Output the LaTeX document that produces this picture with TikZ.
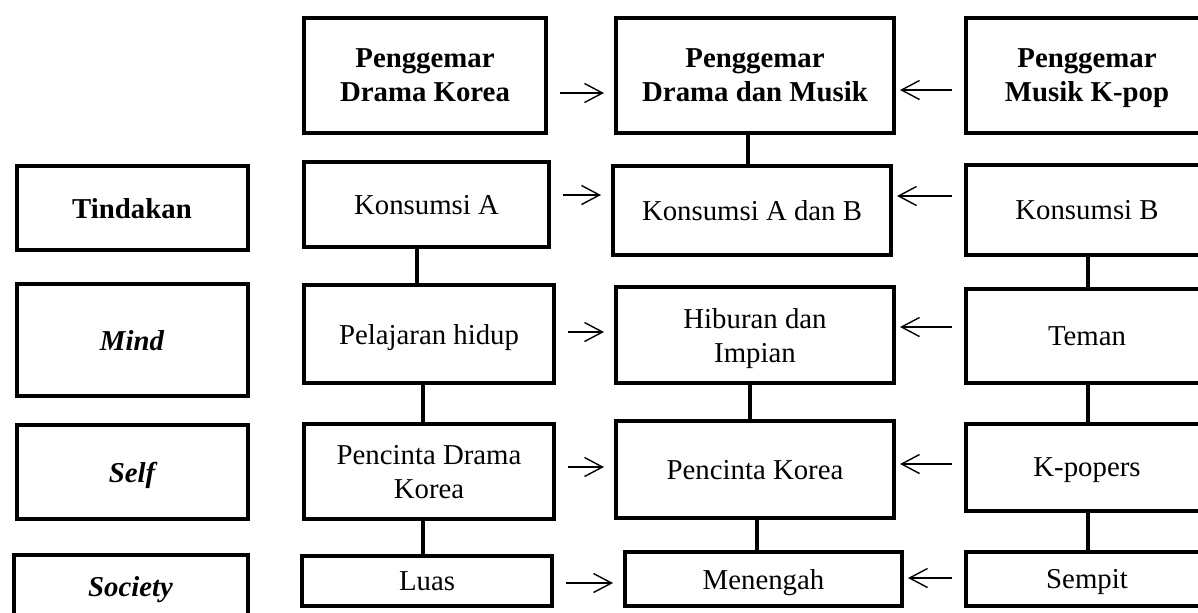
\documentclass[tikz,border=0pt]{standalone}
\usepackage{fontspec}
\setmainfont{Liberation Serif}
\usetikzlibrary{arrows.meta}

\tikzset{
    kotak/.style={draw,line width=2pt,inner sep=0pt,align=center,text depth=0pt,
        font=\fontsize{14.4}{17}\selectfont},
    ukuran/.style 2 args={minimum width=#1*0.5pt,minimum height=#2*0.5pt},
    judul/.style={font=\fontsize{14.4}{17}\selectfont\bfseries},
    aspek/.style={font=\fontsize{14.4}{17}\selectfont\bfseries\itshape},
    garis/.style={line width=2pt},
    panah/.style={->,line width=0.7pt}
}

\begin{document}
\begin{tikzpicture}[x=0.5pt,y=-0.5pt,>={Straight Barb[length=9pt,width=9.5pt]}]
    \useasboundingbox (0,0) rectangle (1198,612);
    \clip (0,0) rectangle (1198,612);
    % aspek
    \node[kotak,judul,ukuran={231}{84}]  (tindakan) at (132,208)     {Tindakan};
    \node[kotak,aspek,ukuran={231}{112}] (mind)     at (132,340)     {Mind};
    \node[kotak,aspek,ukuran={231}{94}]  (self)     at (132,472)     {Self};
    \node[kotak,aspek,ukuran={234}{63}]  (society)  at (130.5,586.5) {Society};
    % drama korea
    \node[kotak,judul,ukuran={242}{115}] (drama)      at (425,75.5)  {Penggemar\\Drama Korea};
    \node[kotak,ukuran={245}{85}]        (konsA)      at (426.5,204.5) {Konsumsi A};
    \node[kotak,ukuran={250}{98}]        (pelajaran)  at (429,334)   {Pelajaran hidup};
    \node[kotak,ukuran={250}{95}]        (pencintaDK) at (429,471.5) {Pencinta Drama\\Korea};
    \node[kotak,ukuran={250}{50}]        (luas)       at (427,581)   {Luas};
    % drama dan musik
    \node[kotak,judul,ukuran={278}{115}] (dramamusik) at (755,75.5)  {Penggemar\\Drama dan Musik};
    \node[kotak,ukuran={278}{89}]        (konsAB)     at (752,210.5) {Konsumsi A dan B};
    \node[kotak,ukuran={278}{96}]        (hiburan)    at (755,335)   {Hiburan dan\\Impian};
    \node[kotak,ukuran={278}{97}]        (pencintaK)  at (755,469.5) {Pencinta Korea};
    \node[kotak,ukuran={277}{54}]        (menengah)   at (763.5,579) {Menengah};
    % musik k-pop
    \node[kotak,judul,ukuran={242}{115}] (musik)   at (1087,75.5)  {Penggemar\\Musik K-pop};
    \node[kotak,ukuran={242}{90}]        (konsB)   at (1087,210)   {Konsumsi B};
    \node[kotak,ukuran={242}{94}]        (teman)   at (1087,336)   {Teman};
    \node[kotak,ukuran={242}{87}]        (kpopers) at (1087,467.5) {K-popers};
    \node[kotak,ukuran={242}{54}]        (sempit)  at (1087,579)   {Sempit};
    % garis antar kotak
    \foreach \a/\b/\dx in {konsA/pelajaran/-9.5, pelajaran/pencintaDK/-6, pencintaDK/luas/-6,
                           dramamusik/konsAB/-7, hiburan/pencintaK/-5, pencintaK/menengah/2,
                           konsB/teman/1, teman/kpopers/1, kpopers/sempit/1}
        \draw[garis] ([shift={(\dx,0)}]\a.south) -- ([shift={(\dx,0)}]\a.south |- \b.north);
    % panah
    \foreach \a/\b/\dy in {drama/dramamusik/17.5, konsA/konsAB/-9.5, pelajaran/hiburan/-2,
                           pencintaDK/pencintaK/-4.5, luas/menengah/2}
        \draw[panah,shorten <=6pt,shorten >=5pt] ([shift={(0,\dy)}]\a.east) -- ([shift={(0,\dy)}]\a.east -| \b.west);
    \foreach \a/\b/\dy in {musik/dramamusik/14.5, konsB/konsAB/-14, teman/hiburan/-9,
                           kpopers/pencintaK/-3.5, sempit/menengah/-1}
        \draw[panah,shorten <=6pt,shorten >=2pt] ([shift={(0,\dy)}]\a.west) -- ([shift={(0,\dy)}]\a.west -| \b.east);
\end{tikzpicture}
\end{document}
